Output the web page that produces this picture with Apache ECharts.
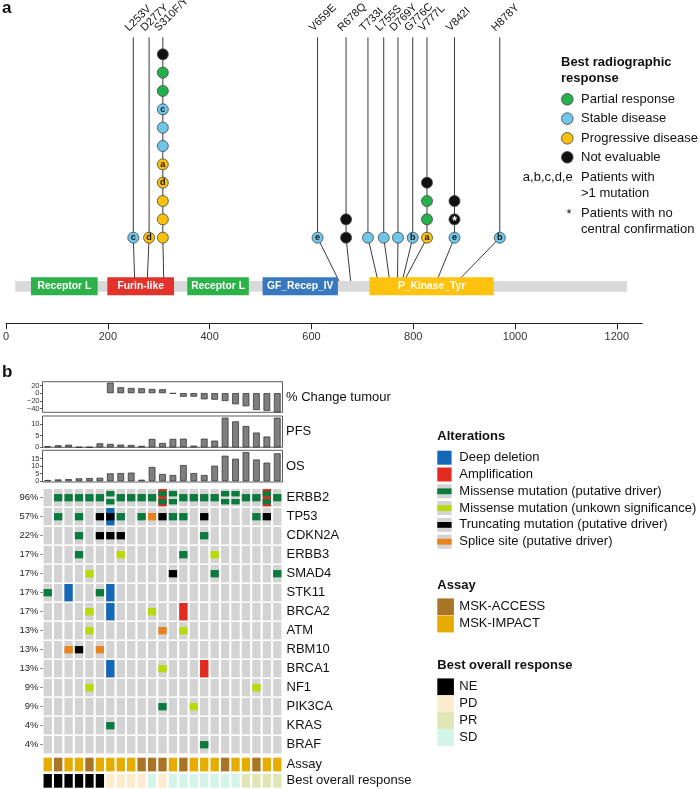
<!DOCTYPE html>
<html><head><meta charset="utf-8">
<script src="https://cdn.jsdelivr.net/npm/echarts@6/dist/echarts.min.js"></script>
<style>html,body{margin:0;padding:0;background:#fff}#c{width:699px;height:789px}</style>
</head><body><div id="c"></div>
<script>
// ================= DATA: panel a (ERBB2 protein, lollipops) =================
const proteinRange = [18, 1220];
const domainNames = ['Receptor L', 'Furin-like', 'Receptor L', 'GF_Recep_IV', 'P_Kinase_Tyr'];
const domainStart = [49, 199, 356, 504, 714];
const domainEnd   = [180, 330, 477, 652, 958];
const posTicks = [0, 200, 400, 600, 800, 1000, 1200];
const mutLabels = ['L253V', 'D277Y', 'S310F/Y', 'V659E', 'R678Q', 'T733I', 'L755S', 'D769Y', 'G776C', 'V777L', 'V842I', 'H878Y'];
const mutPos    = [253, 277, 310, 659, 678, 733, 755, 769, 776, 777, 842, 878];
// where each stem is drawn after spreading crowded positions apart
const mutStemAt = [250, 281, 308, 612, 668, 711, 742, 770, 799, 827, 881, 970];
// best radiographic response of each patient, stacked from bottom to top
const mutResponse = [
  ['SD'], ['PD'],
  ['PD', 'PD', 'PD', 'PD', 'PD', 'SD', 'SD', 'SD', 'PR', 'PR', 'NE'],
  ['SD'], ['NE', 'NE'], ['SD'], ['SD'], ['SD'], ['SD'],
  ['PD', 'PR', 'PR', 'NE'],
  ['SD', 'NE', 'NE'],
  ['SD']
];
const mutMark = [
  ['c'], ['d'],
  ['', '', '', 'd', 'a', '', '', 'c', '', '', ''],
  ['e'], ['', ''], [''], [''], [''], ['b'],
  ['a', '', '', ''],
  ['e', '*', ''],
  ['b']
];
const respCodes = ['PR', 'SD', 'PD', 'NE'];
const respNames = ['Partial response', 'Stable disease', 'Progressive disease', 'Not evaluable'];

// ================= DATA: panel b (oncoprint) =================
const patients = ['P01','P02','P03','P04','P05','P06','P07','P08','P09','P10','P11','P12','P13','P14','P15','P16','P17','P18','P19','P20','P21','P22','P23'];
const pctChange = [null, null, null, null, null, null, 27.5, 15.4, 13.6, 12.8, 11, 10.2, -1, -9.2, -9, -16, -17, -20.4, -29, -34.2, -44, -46.5, -50];
const pfs = [0.45, 0.85, 1.1, 0.1, 0.1, 1.7, 1.45, 1.15, 1.0, 0.6, 3.6, 1.85, 3.6, 3.7, 0.7, 3.7, 2.85, 12.7, 11.1, 9.1, 6.3, 4.6, 12.7];
const os  = [0.8, 1.2, 1.4, 1.9, 2.1, 2.3, 5.2, 5.4, 5.7, 1.0, 9.4, 4.8, 4.1, 10.7, 5.4, 4.1, 10.3, 16.9, 14.9, 19.3, 14.4, 12.3, 18.5];
const pctTicks = [-40, -20, 0, 20];
const pfsTicks = [0, 5, 10];
const osTicks = [0, 5, 10, 15];
const barPanelNames = ['% Change tumour', 'PFS', 'OS'];

const genes   = ['ERBB2', 'TP53', 'CDKN2A', 'ERBB3', 'SMAD4', 'STK11', 'BRCA2', 'ATM', 'RBM10', 'BRCA1', 'NF1', 'PIK3CA', 'KRAS', 'BRAF'];
const genePct = ['96%', '57%', '22%', '17%', '17%', '17%', '17%', '13%', '13%', '13%', '9%', '9%', '4%', '4%'];
// DEL deep deletion, AMP amplification, MIS missense (putative driver), VUS missense (unknown significance),
// TRU truncating (putative driver), SPL splice site (putative driver)
const altERBB2  = ['', 'MIS', 'MIS', 'MIS', 'MIS', 'MIS', 'MIS MIS', 'MIS', 'MIS', 'MIS', 'MIS', 'AMP MIS MIS', 'MIS MIS', 'MIS', 'MIS', 'MIS', 'MIS', 'MIS MIS', 'MIS MIS', 'MIS', 'MIS', 'AMP MIS MIS', 'MIS'];
const altTP53   = ['', 'MIS', '', 'MIS', '', 'TRU', 'DEL TRU', 'MIS', '', 'MIS', 'SPL', 'TRU', 'MIS', 'MIS', '', 'TRU', '', '', '', '', 'MIS', 'TRU', ''];
const altCDKN2A = ['', '', '', 'MIS', '', 'TRU', 'TRU', 'TRU', '', '', '', '', '', '', '', 'MIS', '', '', '', '', '', '', ''];
const altERBB3  = ['', '', '', 'MIS', '', '', '', 'VUS', '', '', '', '', '', 'MIS', '', '', 'VUS', '', '', '', '', '', ''];
const altSMAD4  = ['', '', '', '', 'VUS', '', '', '', '', '', '', '', 'TRU', '', '', '', 'MIS', '', '', '', '', '', 'MIS'];
const altSTK11  = ['MIS', '', 'DEL', '', '', 'MIS', 'DEL', '', '', '', '', '', '', '', '', '', '', '', '', '', '', '', ''];
const altBRCA2  = ['', '', '', '', 'VUS', '', 'DEL', '', '', '', 'VUS', '', '', 'AMP', '', '', '', '', '', '', '', '', ''];
const altATM    = ['', '', '', '', 'VUS', '', '', '', '', '', '', 'SPL', '', 'VUS', '', '', '', '', '', '', '', '', ''];
const altRBM10  = ['', '', 'SPL', 'TRU', '', 'SPL', '', '', '', '', '', '', '', '', '', '', '', '', '', '', '', '', ''];
const altBRCA1  = ['', '', '', '', '', '', 'DEL', '', '', '', '', 'VUS', '', '', '', 'AMP', '', '', '', '', '', '', ''];
const altNF1    = ['', '', '', '', 'VUS', '', '', '', '', '', '', '', '', '', '', '', '', '', '', '', 'VUS', '', ''];
const altPIK3CA = ['', '', '', '', '', '', '', '', '', '', '', 'MIS', '', '', 'VUS', '', '', '', '', '', '', '', ''];
const altKRAS   = ['', '', '', '', '', '', 'MIS', '', '', '', '', '', '', '', '', '', '', '', '', '', '', '', ''];
const altBRAF   = ['', '', '', '', '', '', '', '', '', '', '', '', '', '', '', 'MIS', '', '', '', '', '', '', ''];
const geneAlts = [altERBB2, altTP53, altCDKN2A, altERBB3, altSMAD4, altSTK11, altBRCA2, altATM, altRBM10, altBRCA1, altNF1, altPIK3CA, altKRAS, altBRAF];

const assay = ['MSK-IMPACT','MSK-ACCESS','MSK-IMPACT','MSK-IMPACT','MSK-ACCESS','MSK-IMPACT','MSK-IMPACT','MSK-IMPACT','MSK-IMPACT','MSK-ACCESS','MSK-ACCESS','MSK-ACCESS','MSK-IMPACT','MSK-ACCESS','MSK-IMPACT','MSK-IMPACT','MSK-IMPACT','MSK-ACCESS','MSK-IMPACT','MSK-IMPACT','MSK-ACCESS','MSK-IMPACT','MSK-IMPACT'];
const bestResponse = ['NE','NE','NE','NE','NE','NE','PD','PD','PD','PD','SD','PD','SD','SD','SD','SD','SD','SD','SD','PR','PR','PR','PR'];
const annotRows = ['Assay', 'Best overall response'];

const altCodes = ['DEL', 'AMP', 'MIS', 'VUS', 'TRU', 'SPL'];
const altNames = ['Deep deletion', 'Amplification', 'Missense mutation (putative driver)', 'Missense mutation (unkown significance)', 'Truncating mutation (putative driver)', 'Splice site (putative driver)'];
const assayNames = ['MSK-ACCESS', 'MSK-IMPACT'];
const borNames = ['NE', 'PD', 'PR', 'SD'];

// ================= STYLE =================
const FONT = '"Liberation Sans", Arial, Helvetica, sans-serif';
const domainColors = ['#2DB24A', '#E3312B', '#2DB24A', '#3878BF', '#FFC20E'];
const respColor = { PR: '#22B14C', SD: '#6EC6E9', PD: '#F9C00C', NE: '#111111' };
const altColor = { DEL: '#1468B8', AMP: '#E32A20', MIS: '#0A7A3D', VUS: '#B6DA0A', TRU: '#000000', SPL: '#E8821C' };
const assayColor = { 'MSK-ACCESS': '#A97423', 'MSK-IMPACT': '#E6AC00' };
const borColor = { NE: '#000000', PD: '#FCEBCC', PR: '#DFE5B4', SD: '#D2F4E9' };
const CELL_BG = '#D3D3D3';
const LEG_FS = 13;

// vertical layout of panel a in "stack level" units (1 level = one lollipop head)
const pxPerLevel = 18.34, baseY = 237.7;
const lv = px => 1 + (baseY - px) / pxPerLevel;
const topLv = lv(37.3), barLv = lv(286);
const domTopLv = lv(277.3), domBotLv = lv(295.2);
const protTopLv = lv(281), protBotLv = lv(291.8);

const chart = echarts.init(document.getElementById('c'));

// ---- panel a series data
const circleData = [];
mutLabels.forEach((m, i) => {
  mutResponse[i].forEach((r, k) => {
    const mk = mutMark[i][k];
    circleData.push({
      value: [mutStemAt[i], k + 1],
      itemStyle: { color: respColor[r] },
      label: {
        show: !!mk, formatter: mk, position: 'inside',
        color: mk === '*' ? '#fff' : '#111',
        fontSize: mk === '*' ? 12 : 9, fontWeight: 'bold', fontFamily: FONT,
        offset: mk === '*' ? [0, 2.5] : [0, 0]
      }
    });
  });
});

// ---- panel b oncoprint data
const oncoData = [];
genes.forEach((g, gi) => patients.forEach((p, pi) => oncoData.push([pi, gi])));
const annotData = [];
annotRows.forEach((r, ri) => patients.forEach((p, pi) => annotData.push([pi, ri])));

function rectEl(x, y, w, h, fill) {
  return { type: 'rect', shape: { x, y, width: w, height: h }, style: { fill } };
}

function renderOnco(params, api) {
  const xi = api.value(0), yi = api.value(1);
  const c = api.coord([xi, yi]);
  const s = api.size([1, 1]);
  const w = s[0] * 0.8, h = s[1] - 1.6;
  const x0 = c[0] - w / 2, y0 = c[1] - h / 2;
  const kids = [rectEl(x0, y0, w, h, CELL_BG)];
  const codes = geneAlts[yi][xi].split(' ').filter(Boolean);
  codes.filter(k => k === 'DEL' || k === 'AMP').forEach(k => kids.push(rectEl(x0, y0, w, h, altColor[k])));
  const bands = codes.filter(k => k !== 'DEL' && k !== 'AMP');
  if (bands.length === 1) {
    const bh = h * 0.42;
    kids.push(rectEl(x0, c[1] - bh / 2, w, bh, altColor[bands[0]]));
  } else if (bands.length >= 2) {
    const bh = h * 0.31;
    kids.push(rectEl(x0, c[1] - h * 0.23 - bh / 2, w, bh, altColor[bands[0]]));
    kids.push(rectEl(x0, c[1] + h * 0.23 - bh / 2, w, bh, altColor[bands[1]]));
  }
  return { type: 'group', children: kids };
}

function renderAnnot(params, api) {
  const xi = api.value(0), yi = api.value(1);
  const c = api.coord([xi, yi]);
  const s = api.size([1, 1]);
  const w = s[0] * 0.8, h = s[1] - 2.6;
  const fill = yi === 0 ? assayColor[assay[xi]] : borColor[bestResponse[xi]];
  return rectEl(c[0] - w / 2, c[1] - h / 2, w, h, fill);
}

// ---- graphic helpers (legends, panel letters)
function txt(x, y, s, size, bold, align, color) {
  return {
    type: 'text', x, y, silent: true,
    style: {
      text: s, fill: color || '#111',
      font: (bold ? 'bold ' : '') + size + 'px ' + FONT,
      align: align || 'left', textAlign: align || 'left',
      verticalAlign: 'middle', textVerticalAlign: 'middle'
    }
  };
}
const G = [];
G.push(txt(2, 8, 'a', 17, true));
G.push(txt(2, 372, 'b', 17, true));
// legend a
G.push(txt(561, 62, 'Best radiographic', LEG_FS, true));
G.push(txt(561, 78.5, 'response', LEG_FS, true));
const legAY = [99.3, 118.6, 138.3, 157.3];
respCodes.forEach((r, i) => {
  G.push({ type: 'circle', shape: { cx: 567.3, cy: legAY[i], r: 5.8 }, style: { fill: respColor[r], stroke: '#444', lineWidth: 0.8 } });
  G.push(txt(581, legAY[i], respNames[i], LEG_FS, false));
});
G.push(txt(572.7, 177.3, 'a,b,c,d,e', LEG_FS, false, 'right'));
G.push(txt(581, 177.3, 'Patients with', LEG_FS, false));
G.push(txt(581, 193.5, '>1 mutation', LEG_FS, false));
G.push(txt(569, 214.5, '*', 13, false, 'center'));
G.push(txt(581, 213.3, 'Patients with no', LEG_FS, false));
G.push(txt(581, 229.5, 'central confirmation', LEG_FS, false));
// right-side names of bar panels
const barPanelY = [397, 431.6, 466.2];
barPanelNames.forEach((n, i) => G.push(txt(286, barPanelY[i], n, 13, false)));
// legend b: alterations
G.push(txt(437.3, 436.7, 'Alterations', LEG_FS, true));
altCodes.forEach((k, i) => {
  const cy = 457.7 + i * 16.8;
  if (k === 'DEL' || k === 'AMP') {
    G.push({ type: 'rect', shape: { x: 437.3, y: cy - 7, width: 14.3, height: 14 }, style: { fill: altColor[k] } });
  } else {
    G.push({ type: 'rect', shape: { x: 437.3, y: cy - 7, width: 14.3, height: 14 }, style: { fill: CELL_BG } });
    G.push({ type: 'rect', shape: { x: 437.3, y: cy - 2.9, width: 14.3, height: 5.8 }, style: { fill: altColor[k] } });
  }
  G.push(txt(459.3, cy, altNames[i], LEG_FS, false));
});
// legend b: assay
G.push(txt(437.3, 585, 'Assay', LEG_FS, true));
assayNames.forEach((k, i) => {
  const cy = 606.7 + i * 17.2;
  G.push({ type: 'rect', shape: { x: 437.3, y: cy - 8.3, width: 16.6, height: 16.8 }, style: { fill: assayColor[k] } });
  G.push(txt(459.3, cy, k, LEG_FS, false));
});
// legend b: best overall response
G.push(txt(437.3, 665, 'Best overall response', LEG_FS, true));
borNames.forEach((k, i) => {
  const cy = 686.7 + i * 16.9;
  G.push({ type: 'rect', shape: { x: 437.3, y: cy - 8.3, width: 16.6, height: 16.8 }, style: { fill: borColor[k] } });
  G.push(txt(459.3, cy, k, LEG_FS, false));
});

// ---- common axis pieces for panel b
const hiddenCat = gi => ({ gridIndex: gi, type: 'category', data: patients, show: false, boundaryGap: true });
const barY = (gi, min, max, ticks) => ({
  gridIndex: gi, type: 'value', min, max,
  axisLine: { show: false }, splitLine: { show: false },
  axisTick: { show: true, length: 2.5, customValues: ticks, lineStyle: { color: '#333', width: 0.8 } },
  axisLabel: { show: false }
});
const panelGrid = (top, height) => ({ left: 42.5, width: 240, top, height, show: true, borderColor: '#333', borderWidth: 0.8, backgroundColor: '#fff' });
const barStyle = { color: '#7F7F7F', borderColor: '#262626', borderWidth: 0.7 };

const option = {
  animation: false,
  textStyle: { fontFamily: FONT },
  grid: [
    { left: 2.7, top: 0, width: 639.6, height: 323.3 },
    panelGrid(381.7, 30.6),
    panelGrid(416, 31.3),
    panelGrid(450.3, 31.7),
    { left: 42.5, width: 240, top: 488.2, height: 266 },
    { left: 42.5, width: 240, top: 756.4, height: 33.2 }
  ],
  xAxis: [
    {
      gridIndex: 0, type: 'value', min: 0, max: 1250,
      axisLine: { show: true, onZero: false, lineStyle: { color: '#222', width: 1 } },
      axisTick: { show: true, length: 6, customValues: posTicks, lineStyle: { color: '#222' } },
      axisLabel: { customValues: posTicks, fontSize: 11, color: '#333', margin: 8, fontFamily: FONT, formatter: v => String(v), hideOverlap: false },
      splitLine: { show: false }
    },
    hiddenCat(1), hiddenCat(2), hiddenCat(3), hiddenCat(4), hiddenCat(5)
  ],
  yAxis: [
    { gridIndex: 0, type: 'value', min: lv(323.3), max: lv(0), show: false },
    barY(1, -50, 30, pctTicks),
    barY(2, 0, 13.4, pfsTicks),
    barY(3, -0.5, 20.5, osTicks),
    {
      gridIndex: 4, type: 'category', data: genes, inverse: true, position: 'left',
      axisLine: { show: false },
      axisTick: { show: true, length: 2, interval: 0, lineStyle: { color: '#333', width: 0.8 }, alignWithLabel: true },
      axisLabel: { interval: 0, formatter: (v, i) => genePct[i], fontSize: 9.5, color: '#222', margin: 4, fontFamily: FONT }
    },
    {
      gridIndex: 4, type: 'category', data: genes, inverse: true, position: 'right',
      axisLine: { show: false }, axisTick: { show: false },
      axisLabel: { interval: 0, fontSize: 13, color: '#111', margin: 4, fontFamily: FONT }
    },
    {
      gridIndex: 5, type: 'category', data: annotRows, inverse: true, position: 'right',
      axisLine: { show: false }, axisTick: { show: false },
      axisLabel: { interval: 0, fontSize: 13, color: '#111', margin: 4, fontFamily: FONT }
    }
  ],
  series: [
    // stems
    {
      type: 'custom', xAxisIndex: 0, yAxisIndex: 0, z: 1,
      data: mutLabels.map((m, i) => [mutStemAt[i], 1]),
      renderItem: (params, api) => {
        const i = params.dataIndex;
        const p1 = api.coord([mutStemAt[i], topLv]);
        const p2 = api.coord([mutStemAt[i], 1]);
        const p3 = api.coord([mutPos[i], barLv]);
        return { type: 'polyline', shape: { points: [p1, p2, p3] }, style: { stroke: '#3a3a3a', lineWidth: 1, fill: null } };
      }
    },
    // protein backbone
    {
      type: 'custom', xAxisIndex: 0, yAxisIndex: 0, z: 2,
      data: [[proteinRange[0], 0]],
      renderItem: (params, api) => {
        const a = api.coord([proteinRange[0], protTopLv]);
        const b = api.coord([proteinRange[1], protBotLv]);
        return rectEl(a[0], a[1], b[0] - a[0], b[1] - a[1], '#D9D9D9');
      }
    },
    // domains
    {
      type: 'custom', xAxisIndex: 0, yAxisIndex: 0, z: 3,
      data: domainNames.map((n, i) => [domainStart[i], 0]),
      renderItem: (params, api) => {
        const i = params.dataIndex;
        const a = api.coord([domainStart[i], domTopLv]);
        const b = api.coord([domainEnd[i], domBotLv]);
        return {
          type: 'group', children: [
            rectEl(a[0], a[1], b[0] - a[0], b[1] - a[1], domainColors[i]),
            { type: 'text', x: (a[0] + b[0]) / 2, y: (a[1] + b[1]) / 2,
              style: { text: domainNames[i], fill: '#fff', font: 'bold 10.3px ' + FONT, align: 'center', verticalAlign: 'middle' } }
          ]
        };
      }
    },
    // lollipop heads
    {
      type: 'scatter', xAxisIndex: 0, yAxisIndex: 0, z: 4,
      symbol: 'circle', symbolSize: 11,
      itemStyle: { borderColor: '#444', borderWidth: 0.8, opacity: 1 },
      emphasis: { disabled: true },
      data: circleData
    },
    // mutation labels
    {
      type: 'custom', xAxisIndex: 0, yAxisIndex: 0, z: 5,
      data: mutLabels.map((m, i) => [mutStemAt[i], topLv]),
      renderItem: (params, api) => {
        const i = params.dataIndex;
        const p = api.coord([mutStemAt[i], topLv]);
        return { type: 'text', x: p[0] - 2.5, y: p[1] - 3.8, rotation: Math.PI / 4,
          style: { text: mutLabels[i], fill: '#111', font: '11px ' + FONT, align: 'left', verticalAlign: 'bottom' } };
      }
    },
    // bar panels
    { type: 'bar', xAxisIndex: 1, yAxisIndex: 1, data: pctChange, barWidth: '64%', itemStyle: barStyle },
    { type: 'bar', xAxisIndex: 2, yAxisIndex: 2, data: pfs, barWidth: '64%', itemStyle: barStyle },
    { type: 'bar', xAxisIndex: 3, yAxisIndex: 3, data: os, barWidth: '64%', itemStyle: barStyle },
    // oncoprint
    { type: 'custom', xAxisIndex: 4, yAxisIndex: 4, data: oncoData, renderItem: renderOnco },
    { type: 'custom', xAxisIndex: 5, yAxisIndex: 6, data: annotData, renderItem: renderAnnot }
  ]
};
chart.setOption(option);

// tick labels of the small bar panels, placed through the panels' own y scales
const tickEls = [];
[[1, pctTicks], [2, pfsTicks], [3, osTicks]].forEach(([ai, ticks]) => {
  ticks.forEach(v => {
    const py = chart.convertToPixel({ yAxisIndex: ai }, v);
    tickEls.push(txt(39.5, py, String(v).replace('-', '\u2212'), 7.5, false, 'right', '#333'));
  });
});
chart.setOption({ graphic: { elements: G.concat(tickEls) } });
</script></body></html>
